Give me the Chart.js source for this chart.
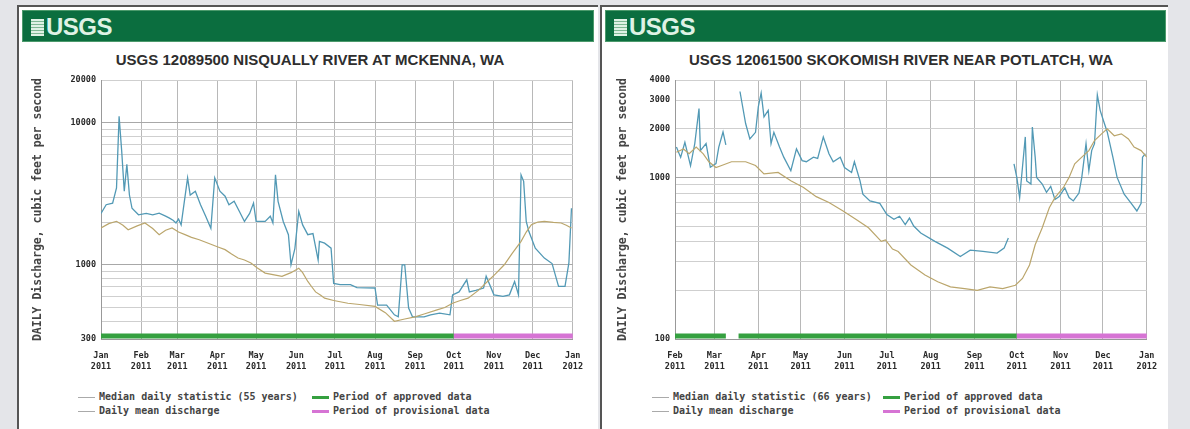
<!DOCTYPE html>
<html>
<head>
<meta charset="utf-8">
<script src="https://cdn.jsdelivr.net/npm/chart.js@4.4.1/dist/chart.umd.min.js"></script>
<style>
  body { margin: 0; width: 1190px; height: 429px; background: #e4e5e9; position: relative; overflow: hidden; }
  .panel { position: absolute; top: 5px; height: 430px; background: #fff; border-left: 2px solid #555; border-top: 2px solid #555; box-sizing: border-box; }
  .bar { position: absolute; top: 10px; height: 32px; background: #0b6e3f; border: 1px solid #4c9a6c; box-sizing: border-box; }
  .logo { position: absolute; left: 8px; top: 2px; font: bold 24px "Liberation Sans Narrow", "Liberation Sans", Arial, sans-serif; color: #dff2e5; letter-spacing: -0.5px; }
  .logo i { display: inline-block; width: 13px; height: 17px; margin-right: 2px; vertical-align: -1px;
    background: repeating-linear-gradient(#dff2e5 0 2px, #7fb894 2px 3px); }
  .title { position: absolute; top: 51px; width: 576px; text-align: center; font: bold 15px "Liberation Sans Narrow", "Liberation Sans", Arial, sans-serif; color: #2e2e2e; }
  canvas { position: absolute; top: 70px; }
  .legend { position: absolute; font: bold 10px "DejaVu Sans Mono", monospace; color: #444; white-space: pre; }
  .legend div { position: absolute; height: 14px; line-height: 14px; }
  .legend span { display: inline-block; vertical-align: middle; margin-right: 4px; }
</style>
</head>
<body>
<div class="panel" style="left:17px;width:581px"></div>
<div class="panel" style="left:600px;width:568px"></div>
<div class="bar" style="left:22px;width:572px"><div class="logo"><i></i>USGS</div></div>
<div class="bar" style="left:605px;width:561px"><div class="logo"><i></i>USGS</div></div>
<div class="title" style="left:22px">USGS 12089500 NISQUALLY RIVER AT MCKENNA, WA</div>
<div class="title" style="left:613px">USGS 12061500 SKOKOMISH RIVER NEAR POTLATCH, WA</div>
<canvas id="nisq" width="572" height="310" style="left:22px"></canvas>
<canvas id="skok" width="563" height="310" style="left:605px"></canvas>
<div class="legend" id="nisqLegend" style="left:78px;top:390px"></div>
<div class="legend" id="skokLegend" style="left:652px;top:390px"></div>

<script>
// ---- data: days counted from 2011-01-01, flow in cubic feet per second ----
const monthDays = [0, 31, 59, 90, 120, 151, 181, 212, 243, 273, 304, 334, 365];
const monthNames = ['Jan', 'Feb', 'Mar', 'Apr', 'May', 'Jun', 'Jul', 'Aug', 'Sep', 'Oct', 'Nov', 'Dec', 'Jan'];
const monthYears = ['2011', '2011', '2011', '2011', '2011', '2011', '2011', '2011', '2011', '2011', '2011', '2011', '2012'];

// Nisqually River at McKenna
const nisqMeanDays = [0, 4, 9, 12, 14, 16, 18, 20, 22, 24, 29, 35, 40, 45, 50, 53, 56, 58, 60, 62, 67, 69, 73, 77, 81, 85, 88, 92, 96, 99, 103, 107, 111, 115, 118, 120, 127, 131, 133, 135, 137, 141, 145, 147, 150, 153, 156, 160, 164, 168, 169, 173, 178, 180, 185, 193, 198, 212, 214, 221, 227, 230, 233, 235, 238, 241, 250, 255, 262, 270, 272, 277, 283, 285, 290, 296, 298, 304, 311, 316, 320, 323, 325, 327, 329, 331, 336, 343, 349, 354, 359, 362, 364];
const nisqMeanCfs = [2300, 2650, 2720, 3480, 11100, 6350, 3300, 5100, 3100, 2500, 2250, 2300, 2250, 2310, 2200, 2130, 2050, 1970, 2100, 1910, 4100, 3100, 3300, 2650, 2200, 1810, 4100, 3300, 3040, 2650, 2800, 2380, 2020, 2300, 2720, 2020, 2020, 2200, 1970, 4300, 2800, 2020, 1630, 1000, 1300, 2380, 1910, 1630, 1660, 1080, 1460, 1420, 1310, 740, 725, 725, 690, 686, 520, 520, 444, 430, 1000, 1000, 495, 430, 430, 444, 456, 444, 614, 644, 784, 644, 660, 686, 830, 614, 600, 614, 763, 614, 4300, 3870, 2020, 1720, 1310, 1115, 1020, 704, 704, 1030, 2500];
const nisqMedianDays = [0, 6, 12, 17, 21, 28, 34, 40, 45, 50, 55, 60, 65, 70, 76, 81, 86, 91, 96, 101, 106, 111, 116, 121, 127, 134, 140, 147, 153, 156, 160, 163, 166, 170, 173, 180, 191, 200, 212, 220, 227, 235, 243, 250, 260, 266, 272, 278, 284, 292, 299, 305, 312, 318, 325, 329, 333, 338, 343, 350, 356, 360, 364];
const nisqMedianCfs = [1815, 1950, 2025, 1900, 1765, 1880, 1970, 1800, 1630, 1750, 1815, 1700, 1630, 1560, 1500, 1440, 1384, 1330, 1278, 1190, 1115, 1080, 1030, 950, 874, 850, 830, 880, 946, 880, 763, 700, 644, 610, 582, 560, 536, 525, 509, 460, 400, 415, 430, 450, 481, 500, 536, 560, 582, 660, 763, 860, 1000, 1200, 1463, 1700, 1915, 2000, 2025, 1990, 1970, 1900, 1815];
const nisqGridValues = [300, 400, 500, 600, 700, 800, 900, 1000, 2000, 3000, 4000, 5000, 6000, 7000, 8000, 9000, 10000, 20000];
const nisqTickLabels = [300, 1000, 10000, 20000];
const nisqApproved = [[0, 273]];
const nisqProvisional = [[273, 365]];

// Skokomish River near Potlatch (null = missing record)
const skokMeanDays = [32, 35, 38, 42, 45, 48, 49, 53, 56, 60, 62, 65, 67, 68, 77, 81, 84, 88, 90, 92, 94, 97, 99, 101, 105, 108, 113, 117, 121, 124, 129, 132, 136, 140, 143, 148, 151, 156, 158, 162, 164, 169, 176, 181, 186, 190, 194, 197, 200, 205, 215, 224, 233, 240, 249, 259, 264, 267, 269, 271, 273, 275, 277, 279, 280, 283, 284, 286, 287, 291, 294, 297, 300, 303, 307, 310, 313, 317, 319, 322, 324, 326, 328, 330, 332, 335, 337, 341, 344, 349, 354, 358, 361, 362, 364];
const skokMeanCfs = [1540, 1330, 1650, 1180, 1620, 2670, 1465, 1620, 1155, 1216, 1540, 1910, 1590, null, 3400, 2155, 1730, 1900, 2740, 3330, 2370, 2600, 1620, 1900, 1540, 1334, 1100, 1500, 1270, 1250, 1334, 1310, 1780, 1400, 1250, 1334, 1150, 1073, 1250, 952, 787, 715, 690, 589, 550, 575, 510, 560, 500, 453, 402, 365, 324, 355, 348, 340, 365, 421, null, 1214, 1000, 750, 1155, 1780, 950, 910, 2050, 1334, 1000, 910, 808, 880, 730, 760, 860, 750, 715, 800, 1000, 1617, 1100, 1465, 1617, 3240, 2600, 2155, 1910, 1334, 1000, 787, 690, 620, 690, 1334, 1400];
const skokMedianDays = [32, 37, 41, 46, 51, 55, 60, 64, 71, 81, 88, 94, 104, 113, 122, 131, 140, 150, 159, 168, 177, 180, 185, 189, 198, 208, 217, 226, 236, 245, 254, 263, 272, 277, 282, 286, 291, 296, 300, 306, 310, 314, 319, 324, 328, 333, 337, 342, 347, 352, 356, 361, 365];
const skokMedianCfs = [1430, 1500, 1400, 1540, 1400, 1250, 1150, 1184, 1250, 1250, 1184, 1050, 1073, 952, 866, 760, 700, 620, 550, 488, 402, 410, 360, 348, 287, 249, 226, 210, 205, 200, 210, 205, 215, 237, 287, 383, 488, 649, 750, 866, 1000, 1214, 1334, 1465, 1690, 1860, 2000, 1810, 1860, 1730, 1540, 1465, 1334];
const skokGridValues = [100, 200, 300, 400, 500, 600, 700, 800, 900, 1000, 2000, 3000, 4000];
const skokTickLabels = [100, 1000, 2000, 3000, 4000];
const skokApproved = [[31, 67], [76, 273]];
const skokProvisional = [[273, 365]];

const MEAN_COLOR = '#5299b5';
const MEDIAN_COLOR = '#bba66c';
const APPROVED_COLOR = '#35a040';
const PROVISIONAL_COLOR = '#d674d4';
const MONO = '"DejaVu Sans Mono", monospace';

function zip(days, vals) {
    return days.map((d, i) => ({ x: d, y: vals[i] }));
}

// draws the approved / provisional strip along the bottom of the plot
const periodBars = {
    id: 'periodBars',
    afterDatasetsDraw(chart, args, opts) {
        const { ctx, chartArea, scales: { x } } = chart;
        ctx.save();
        ctx.lineWidth = 5;
        opts.periods.forEach(p => {
            ctx.strokeStyle = p.color;
            ctx.beginPath();
            ctx.moveTo(x.getPixelForValue(p.from), chartArea.bottom - 3);
            ctx.lineTo(x.getPixelForValue(p.to), chartArea.bottom - 3);
            ctx.stroke();
        });
        ctx.restore();
    }
};

function makeChart(id, opt) {
    const periods = [
        ...opt.approved.map(r => ({ from: r[0], to: r[1], color: APPROVED_COLOR })),
        ...opt.provisional.map(r => ({ from: r[0], to: r[1], color: PROVISIONAL_COLOR }))
    ];
    const firstMonth = monthDays.indexOf(opt.xMin);
    return new Chart(document.getElementById(id), {
        type: 'line',
        data: {
            datasets: [
                { label: 'Median', data: zip(opt.medianDays, opt.medianCfs), borderColor: MEDIAN_COLOR, borderWidth: 1.2 },
                { label: 'Daily mean', data: zip(opt.meanDays, opt.meanCfs), borderColor: MEAN_COLOR, borderWidth: 1.3, spanGaps: false }
            ]
        },
        options: {
            responsive: false,
            animation: false,
            parsing: false,
            elements: { point: { radius: 0 }, line: { tension: 0 } },
            layout: { padding: { top: 10, right: opt.padRight, left: 0, bottom: 0 } },
            plugins: {
                legend: { display: false },
                tooltip: { enabled: false },
                periodBars: { periods }
            },
            scales: {
                x: {
                    type: 'linear',
                    min: opt.xMin,
                    max: 365,
                    afterBuildTicks: s => { s.ticks = monthDays.slice(firstMonth).map(v => ({ value: v })); },
                    afterFit: s => { s.height = 41; },
                    grid: { color: '#b8b8b8', drawTicks: false },
                    border: { color: '#999' },
                    ticks: {
                        autoSkip: false, maxRotation: 0, padding: 11, color: '#2a2a2a',
                        font: { family: MONO, size: 8.5, weight: 'bold', lineHeight: 1.3 },
                        callback: v => {
                            const i = monthDays.indexOf(v);
                            return [monthNames[i], monthYears[i]];
                        }
                    }
                },
                y: {
                    type: 'logarithmic',
                    min: opt.gridValues[0],
                    max: opt.gridValues[opt.gridValues.length - 1],
                    afterBuildTicks: s => { s.ticks = opt.gridValues.map(v => ({ value: v })); },
                    afterFit: s => { s.width = opt.yWidth; },
                    grid: {
                        drawTicks: false,
                        color: c => (c.tick && (c.tick.value === 1000 || c.tick.value === 10000)) ? '#a8a8a8' : '#cfcfcf'
                    },
                    border: { color: '#999' },
                    title: {
                        display: true,
                        text: 'DAILY Discharge, cubic feet per second',
                        color: '#444',
                        font: { family: MONO, size: 11.5, weight: 'bold' },
                        padding: { top: opt.titlePad, bottom: 0 }
                    },
                    ticks: {
                        autoSkip: false, padding: 5, color: '#2a2a2a',
                        font: { family: MONO, size: 8.5, weight: 'bold' },
                        callback: v => opt.tickLabels.includes(v) ? String(v) : ''
                    }
                }
            }
        },
        plugins: [periodBars]
    });
}

makeChart('nisq', {
    xMin: 0, padRight: 17, yWidth: 79, titlePad: 9,
    meanDays: nisqMeanDays, meanCfs: nisqMeanCfs,
    medianDays: nisqMedianDays, medianCfs: nisqMedianCfs,
    gridValues: nisqGridValues, tickLabels: nisqTickLabels,
    approved: nisqApproved, provisional: nisqProvisional
});

makeChart('skok', {
    xMin: 31, padRight: 10, yWidth: 70, titlePad: 11,
    meanDays: skokMeanDays, meanCfs: skokMeanCfs,
    medianDays: skokMedianDays, medianCfs: skokMedianCfs,
    gridValues: skokGridValues, tickLabels: skokTickLabels,
    approved: skokApproved, provisional: skokProvisional
});

// html legend, two columns like the USGS plot
function buildLegend(id, years, col2) {
    const el = document.getElementById(id);
    const line = (c, h) => `<span style="width:17px;height:${h}px;background:${c}"></span>`;
    el.innerHTML =
        `<div style="left:0;top:0">${line('#aaa', 1)}Median daily statistic (${years} years)</div>` +
        `<div style="left:0;top:14px">${line('#aaa', 1)}Daily mean discharge</div>` +
        `<div style="left:${col2}px;top:0">${line(APPROVED_COLOR, 3)}Period of approved data</div>` +
        `<div style="left:${col2}px;top:14px">${line(PROVISIONAL_COLOR, 3)}Period of provisional data</div>`;
}
buildLegend('nisqLegend', 55, 234);
buildLegend('skokLegend', 66, 231);
</script>
</body>
</html>
